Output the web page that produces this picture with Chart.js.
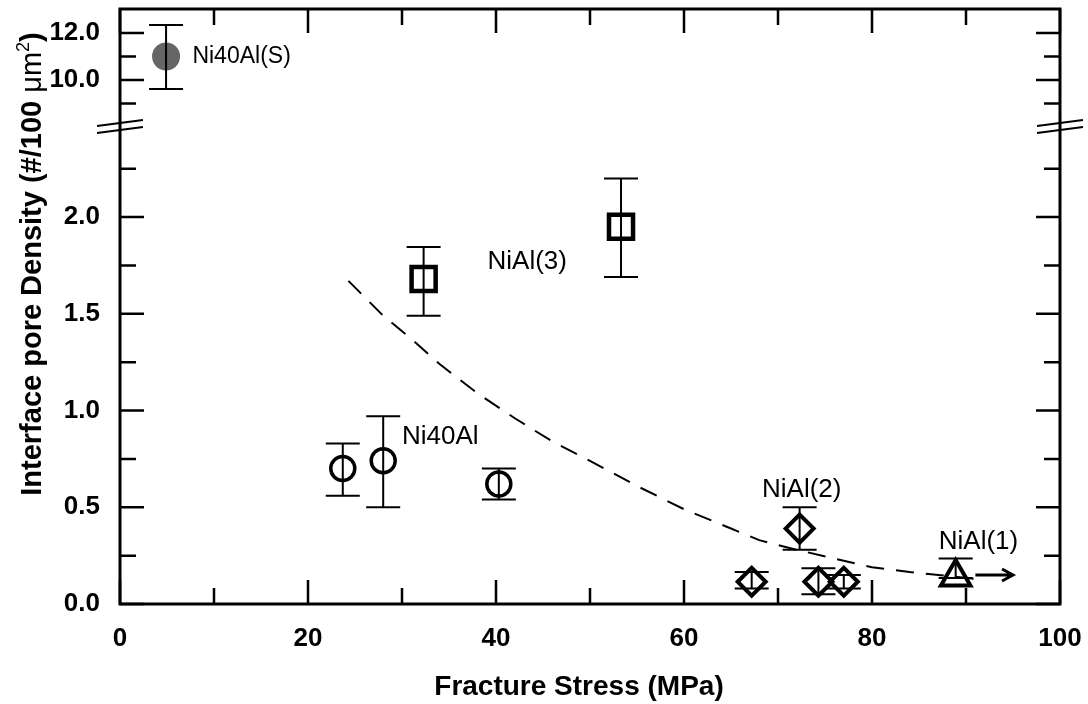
<!DOCTYPE html>
<html>
<head>
<meta charset="utf-8">
<script src="https://cdn.jsdelivr.net/npm/chart.js@4.4.1/dist/chart.umd.min.js"></script>
<style>
  html, body { margin: 0; padding: 0; background: #fff; }
  canvas { display: block; }
</style>
</head>
<body>
<canvas id="poreChart" width="1088" height="704"></canvas>
<script>
// -------------------- DATA --------------------
// broken y axis: lower part 0 .. yBreakLow, upper part yBreakHigh .. yTop
const yBreakLow = 2.468;
const yBreakHigh = 8.02;
const yTop = 13.02;
const upperScale = 0.1215;   // upper part is squeezed

// Ni40Al(S) (grey dot)
const sStress = [4.9];
const sDensity = [11.0];
const sErrHi = [12.34];
const sErrLo = [9.62];

// NiAl(3) squares
const sqStress = [32.3, 53.3];
const sqDensity = [1.68, 1.95];
const sqErrHi = [1.845, 2.2];
const sqErrLo = [1.49, 1.69];

// Ni40Al circles
const ciStress = [23.7, 28.0, 40.3];
const ciDensity = [0.70, 0.74, 0.62];
const ciErrHi = [0.83, 0.97, 0.70];
const ciErrLo = [0.56, 0.50, 0.54];

// NiAl(2) diamonds
const diStress = [67.2, 72.3, 74.3, 77.0];
const diDensity = [0.115, 0.39, 0.115, 0.115];
const diErrHi = [0.165, 0.50, 0.185, 0.15];
const diErrLo = [0.08, 0.28, 0.05, 0.08];

// NiAl(1) triangle, lower bound -> arrow
const trStress = [88.9];
const trDensity = [0.14];
const trErrHi = [0.235];
const trErrLo = [0.135];
const arrowStress = [91.0, 95.0];
const arrowDensity = [0.15];

// dashed trend line
const fitStress = [24.3, 28, 31, 34, 38, 42, 46, 50, 55, 60, 65, 68, 72, 76, 80, 84, 88, 92];
const fitDensity = [1.67, 1.49, 1.37, 1.24, 1.09, 0.96, 0.84, 0.74, 0.61, 0.49, 0.39, 0.33, 0.28, 0.235, 0.19, 0.165, 0.145, 0.125];

// ticks
const xMajor = [0, 20, 40, 60, 80, 100];
const xMinor = [10, 30, 50, 70, 90];
const yMajor = [0, 0.5, 1.0, 1.5, 2.0, 10, 12];
const yTickLabels = ['0.0', '0.5', '1.0', '1.5', '2.0', '10.0', '12.0'];
const yMinor = [0.25, 0.75, 1.25, 1.75, 2.25, 9, 11];

// annotations
const noteText = ['Ni40Al(S)', 'NiAl(3)', 'Ni40Al', 'NiAl(2)', 'NiAl(1)'];
const noteStress = [7.7, 39.1, 30.0, 68.3, 87.1];
const noteDensity = [11.0, 1.767, 0.863, 0.589, 0.32];
const noteSize = [23, 26, 26, 26, 26];

const FONT = '"Liberation Sans", Arial, Helvetica, sans-serif';

// map a real density to the broken axis
function toAxis(v) {
    return v <= yBreakLow ? v : yBreakLow + (v - yBreakHigh) * upperScale;
}
function pts(xs, ys) {
    return xs.map((x, i) => ({ x: x, y: toAxis(ys[i]) }));
}
function noPad(s) {
    s.paddingTop = 0; s.paddingBottom = 0; s.paddingLeft = 0; s.paddingRight = 0;
}

// -------------------- PLUGIN: frame, ticks, break, error bars, text --------------------
const decorations = {
    id: 'decorations',
    afterDatasetsDraw(chart) {
        const ctx = chart.ctx;
        const xs = chart.scales.x, ys = chart.scales.y;
        const a = chart.chartArea;
        ctx.save();
        ctx.strokeStyle = '#000';
        ctx.fillStyle = '#000';
        ctx.lineCap = 'butt';

        // error bars
        ctx.lineWidth = 2;
        chart.data.datasets.forEach(ds => {
            if (!ds.errHi) return;
            ds.srcX.forEach((xv, i) => {
                const px = xs.getPixelForValue(xv);
                const pHi = ys.getPixelForValue(toAxis(ds.errHi[i]));
                const pLo = ys.getPixelForValue(toAxis(ds.errLo[i]));
                ctx.beginPath();
                ctx.moveTo(px, pHi); ctx.lineTo(px, pLo);
                ctx.moveTo(px - 17, pHi); ctx.lineTo(px + 17, pHi);
                ctx.moveTo(px - 17, pLo); ctx.lineTo(px + 17, pLo);
                ctx.stroke();
            });
        });

        // arrow for NiAl(1)
        const ax1 = xs.getPixelForValue(arrowStress[0]);
        const ax2 = xs.getPixelForValue(arrowStress[1]);
        const ay = ys.getPixelForValue(toAxis(arrowDensity[0]));
        ctx.lineWidth = 3;
        ctx.beginPath();
        ctx.moveTo(ax1, ay); ctx.lineTo(ax2, ay);
        ctx.moveTo(ax2 - 11, ay - 6); ctx.lineTo(ax2, ay); ctx.lineTo(ax2 - 11, ay + 6);
        ctx.stroke();

        // frame
        ctx.lineWidth = 3;
        ctx.strokeRect(a.left, a.top, a.right - a.left, a.bottom - a.top);

        // inward ticks on all four sides
        ctx.lineWidth = 2.5;
        ctx.beginPath();
        const yTick = (v, len) => {
            const py = ys.getPixelForValue(toAxis(v));
            ctx.moveTo(a.left, py); ctx.lineTo(a.left + len, py);
            ctx.moveTo(a.right, py); ctx.lineTo(a.right - len, py);
        };
        const xTick = (v, len) => {
            const px = xs.getPixelForValue(v);
            ctx.moveTo(px, a.bottom); ctx.lineTo(px, a.bottom - len);
            ctx.moveTo(px, a.top); ctx.lineTo(px, a.top + len);
        };
        yMajor.forEach(v => yTick(v, 24));
        yMinor.forEach(v => yTick(v, 16));
        xMajor.forEach(v => xTick(v, 24));
        xMinor.forEach(v => xTick(v, 16));
        ctx.stroke();

        // axis break marks
        const yb = ys.getPixelForValue(yBreakLow);
        ctx.lineWidth = 2;
        ctx.beginPath();
        [a.left, a.right].forEach(x0 => {
            [-3.5, 3.5].forEach(off => {
                ctx.moveTo(x0 - 23, yb + off + 3);
                ctx.lineTo(x0 + 23, yb + off - 3);
            });
        });
        ctx.stroke();

        // annotations
        ctx.textAlign = 'left';
        ctx.textBaseline = 'middle';
        noteText.forEach((t, i) => {
            ctx.font = noteSize[i] + 'px ' + FONT;
            ctx.fillText(t, xs.getPixelForValue(noteStress[i]), ys.getPixelForValue(toAxis(noteDensity[i])));
        });

        // x title
        ctx.font = 'bold 28px ' + FONT;
        ctx.textAlign = 'center';
        ctx.fillText('Fracture Stress (MPa)', 579, 687);

        // y title (rotated, mixed weights)
        const parts = [
            { t: 'Interface pore Density (#/100 ', f: 'bold 29px ' + FONT, dy: 0 },
            { t: '\u03bcm', f: '29px ' + FONT, dy: 0 },
            { t: '2', f: '18px ' + FONT, dy: -9 },
            { t: ')', f: 'bold 29px ' + FONT, dy: 0 }
        ];
        let total = 0;
        parts.forEach(p => { ctx.font = p.f; p.w = ctx.measureText(p.t).width; total += p.w; });
        ctx.translate(33, 264);
        ctx.rotate(-Math.PI / 2);
        ctx.textAlign = 'left';
        let cx = -total / 2;
        parts.forEach(p => {
            ctx.font = p.f;
            ctx.fillText(p.t, cx, p.dy);
            cx += p.w;
        });
        ctx.restore();
    }
};

// -------------------- CHART --------------------
const ctx = document.getElementById('poreChart').getContext('2d');
new Chart(ctx, {
    type: 'scatter',
    data: {
        datasets: [
            {
                label: 'Ni40Al(S)',
                data: pts(sStress, sDensity),
                srcX: sStress, errHi: sErrHi, errLo: sErrLo,
                pointStyle: 'circle', pointRadius: 14,
                backgroundColor: '#666666', borderColor: '#666666', borderWidth: 0
            },
            {
                label: 'NiAl(3)',
                data: pts(sqStress, sqDensity),
                srcX: sqStress, errHi: sqErrHi, errLo: sqErrLo,
                pointStyle: 'rect', pointRadius: 17,
                backgroundColor: 'rgba(0,0,0,0)', borderColor: '#000', borderWidth: 4.5
            },
            {
                label: 'Ni40Al',
                data: pts(ciStress, ciDensity),
                srcX: ciStress, errHi: ciErrHi, errLo: ciErrLo,
                pointStyle: 'circle', pointRadius: 12,
                backgroundColor: 'rgba(0,0,0,0)', borderColor: '#000', borderWidth: 3.5
            },
            {
                label: 'NiAl(2)',
                data: pts(diStress, diDensity),
                srcX: diStress, errHi: diErrHi, errLo: diErrLo,
                pointStyle: 'rectRot', pointRadius: 14,
                backgroundColor: 'rgba(0,0,0,0)', borderColor: '#000', borderWidth: 4
            },
            {
                label: 'NiAl(1)',
                data: pts(trStress, trDensity),
                srcX: trStress, errHi: trErrHi, errLo: trErrLo,
                pointStyle: 'triangle', pointRadius: 17,
                backgroundColor: 'rgba(0,0,0,0)', borderColor: '#000', borderWidth: 4
            },
            {
                label: 'trend',
                data: pts(fitStress, fitDensity),
                showLine: true, pointRadius: 0, tension: 0,
                borderColor: '#000', borderWidth: 2, borderDash: [18, 12],
                backgroundColor: 'rgba(0,0,0,0)'
            }
        ]
    },
    options: {
        responsive: false,
        animation: false,
        devicePixelRatio: 1,
        layout: { autoPadding: false, padding: { left: 0, right: 28, top: 9, bottom: 0 } },
        plugins: {
            legend: { display: false },
            tooltip: { enabled: false }
        },
        scales: {
            x: {
                type: 'linear',
                min: 0, max: 100,
                grid: { display: false, drawTicks: false },
                border: { display: false },
                ticks: {
                    stepSize: 20,
                    padding: 19,
                    color: '#000',
                    font: { family: FONT, size: 26, weight: 'bold' }
                },
                afterFit: (s) => { s.height = 100; noPad(s); }
            },
            y: {
                type: 'linear',
                min: 0, max: toAxis(yTop),
                grid: { display: false, drawTicks: false },
                border: { display: false },
                afterBuildTicks: (s) => { s.ticks = yMajor.map(v => ({ value: toAxis(v) })); },
                ticks: {
                    autoSkip: false,
                    padding: 20,
                    color: '#000',
                    font: { family: FONT, size: 26, weight: 'bold' },
                    callback: (val, i) => yTickLabels[i]
                },
                afterFit: (s) => { s.width = 120; noPad(s); }
            }
        }
    },
    plugins: [decorations]
});
</script>
</body>
</html>
